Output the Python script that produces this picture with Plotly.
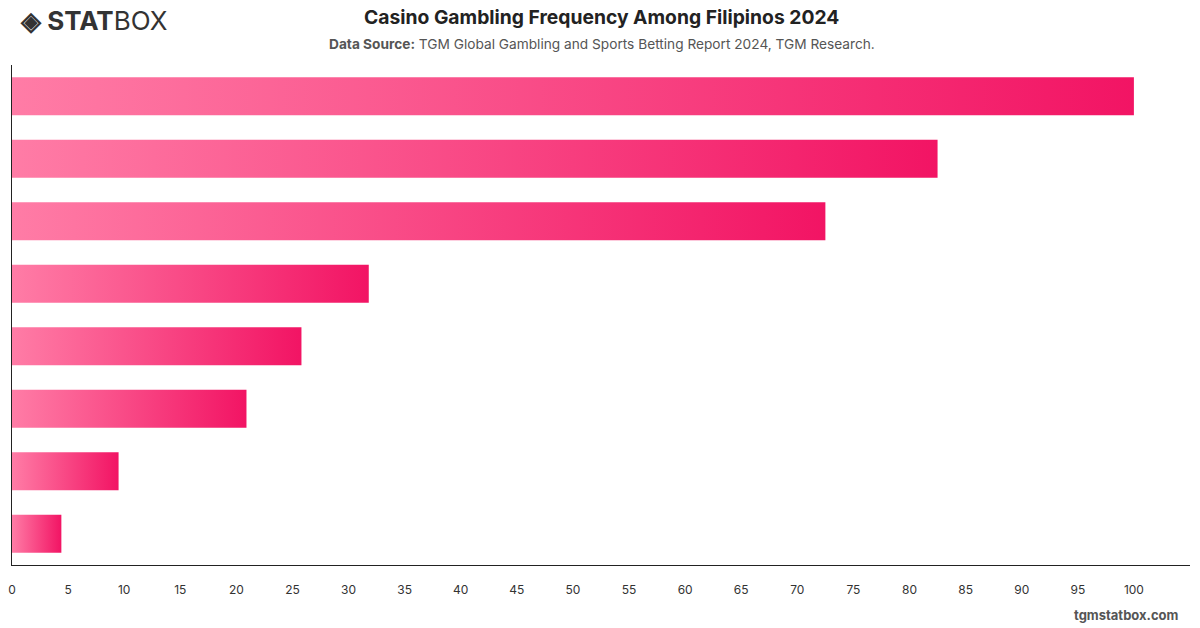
import plotly.graph_objects as go

categories = ["Category 1", "Category 2", "Category 3", "Category 4",
              "Category 5", "Category 6", "Category 7", "Category 8"]
values = [100.0, 82.5, 72.5, 31.8, 25.8, 20.9, 9.5, 4.4]
tick_vals = list(range(0, 105, 5))
tick_text = [str(v) for v in tick_vals]

BAR_W = 0.61
C_LIGHT = "rgb(255,124,166)"
C_DEEP = "rgb(242,20,100)"

fig = go.Figure()
for i, (cat, v) in enumerate(zip(categories, values)):
    y0, y1 = i - BAR_W / 2, i + BAR_W / 2
    fig.add_trace(go.Scatter(
        x=[0, v, v, 0, 0], y=[y0, y0, y1, y1, y0],
        mode="lines", line=dict(width=0), fill="toself",
        fillgradient=dict(type="horizontal",
                          colorscale=[[0, C_LIGHT], [1, C_DEEP]]),
        name=cat, hovertemplate=f"{cat}: %{{x}}<extra></extra>",
        hoveron="fills", showlegend=False,
    ))

FONT = "Inter, 'Open Sans', sans-serif"
W, H = 1200, 628
ml, mr, mt, mb = 8, 10, 65, 63
pw, ph = W - ml - mr, H - mt - mb


def px(x, y):
    return (x - ml) / pw, (H - mb - y) / ph


def ann(text, x, y, size, color, xanchor="center"):
    xx, yy = px(x, y)
    return dict(text=text, x=xx, y=yy, xref="paper", yref="paper", showarrow=False,
                xanchor=xanchor, yanchor="middle",
                font=dict(size=size, color=color, family=FONT))


fig.update_layout(
    width=W, height=H,
    margin=dict(l=ml, r=mr, t=mt, b=mb),
    paper_bgcolor="white", plot_bgcolor="white",
    font=dict(family=FONT, color="#333333", size=12),
    xaxis=dict(range=[0, 105.0], tickmode="array", tickvals=tick_vals, ticktext=tick_text,
               showgrid=False, zeroline=False, showline=True, linecolor="#222222",
               linewidth=1, ticks="", ticklabelstandoff=14,
               tickfont=dict(size=12, color="#333333"), fixedrange=True),
    yaxis=dict(range=[len(categories) - 0.5, -0.5], showticklabels=False,
               showgrid=False, zeroline=False, showline=True, linecolor="#222222",
               linewidth=1, ticks="", fixedrange=True),
    annotations=[
        ann("<b>Casino Gambling Frequency Among Filipinos 2024</b>", 600, 17, 19.3, "#222222"),
        ann("<b>Data Source:</b> TGM Global Gambling and Sports Betting Report 2024, TGM Research.",
            600, 44, 13.7, "#555555"),
        ann("<b>◈ STAT</b>BOX", 14, 21, 26, "#333333", "left"),
        ann("<b>tgmstatbox.com</b>", 1181, 615, 13, "#555555", "right"),
    ],
)

fig.write_html("out.html")
